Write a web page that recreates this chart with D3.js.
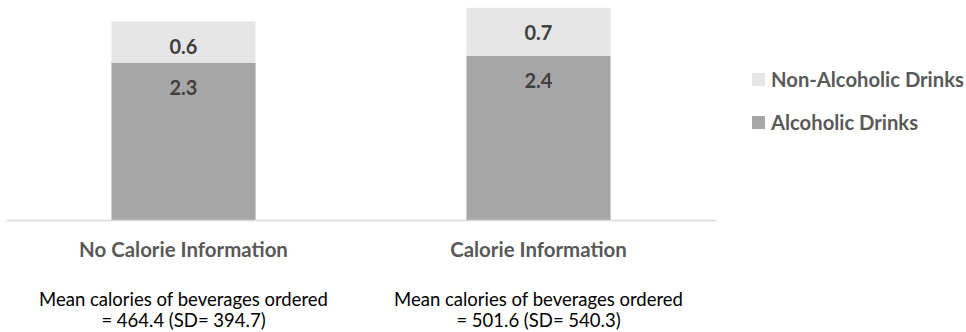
<!DOCTYPE html>
<html>
<head>
<meta charset="utf-8">
<script src="https://cdn.jsdelivr.net/npm/d3@7"></script>
<style>
  html, body { margin: 0; padding: 0; background: #fff; }
  svg { display: block; font-family: Lato, "Open Sans", sans-serif; }
</style>
</head>
<body>
<svg id="chart" width="966" height="332"></svg>
<script>
// ---- data ----
const categories = ["No Calorie Information", "Calorie Information"];
const seriesNames = ["Alcoholic Drinks", "Non-Alcoholic Drinks"];
const alcoholic = [2.3, 2.4];
const nonAlcoholic = [0.6, 0.7];
const subtitleLine1 = ["Mean calories of beverages ordered", "Mean calories of beverages ordered"];
const subtitleLine2 = ["= 464.4 (SD= 394.7)", "= 501.6 (SD= 540.3)"];
const legendOrder = ["Non-Alcoholic Drinks", "Alcoholic Drinks"];

const colors = { "Alcoholic Drinks": "#a6a6a6", "Non-Alcoholic Drinks": "#e6e6e6" };

const svg = d3.select("#chart");

const x = d3.scaleBand().domain(categories).range([6, 716]).paddingInner(0.594).paddingOuter(0.297);
const y = d3.scaleLinear().domain([0, 3.2]).range([220, 1]);

const table = categories.map((c, i) => ({ cat: c, "Alcoholic Drinks": alcoholic[i], "Non-Alcoholic Drinks": nonAlcoholic[i] }));
const stack = d3.stack().keys(seriesNames)(table);

// fit font size so a reference string reaches a target width
function fitSize(text, weight, target, base) {
  const t = svg.append("text").attr("font-size", base).attr("font-weight", weight).text(text);
  const w = t.node().getComputedTextLength();
  t.remove();
  return base * target / w;
}

// bars
const g = svg.append("g");
stack.forEach(layer => {
  g.selectAll(null).data(layer).enter().append("rect")
    .attr("x", d => x(d.data.cat))
    .attr("width", x.bandwidth())
    .attr("y", d => y(d[1]))
    .attr("height", d => y(d[0]) - y(d[1]))
    .attr("fill", colors[layer.key]);
});

// value labels (inside end)
stack.forEach(layer => {
  g.selectAll(null).data(layer).enter().append("text")
    .attr("x", d => x(d.data.cat) + x.bandwidth() / 2)
    .attr("y", d => y(d[1]) + 32.5)
    .attr("text-anchor", "middle")
    .attr("font-size", 20)
    .attr("font-weight", "bold")
    .attr("fill", "#404040")
    .text(d => d3.format(".1f")(d[1] - d[0]));
});

// baseline axis
const xAxis = d3.axisBottom(x).tickSize(0).tickFormat("");
const ax = svg.append("g").attr("transform", `translate(0,${y(0)})`).call(xAxis);
ax.select(".domain").attr("stroke", "#d9d9d9").attr("stroke-width", 1.5);

// category labels
const catSize = fitSize(categories[0], "bold", 209, 18);
svg.selectAll(".cat").data(categories).enter().append("text")
  .attr("class", "cat")
  .attr("x", d => x(d) + x.bandwidth() / 2)
  .attr("y", 256.5)
  .attr("text-anchor", "middle")
  .attr("font-size", catSize)
  .attr("font-weight", "bold")
  .attr("fill", "#595959")
  .text(d => d);

// subtitles
const subSize = fitSize(subtitleLine1[0], "normal", 289, 18);
categories.forEach((c, i) => {
  const cx = x(c) + x.bandwidth() / 2;
  svg.append("text").attr("x", cx).attr("y", 305.5).attr("text-anchor", "middle")
    .attr("font-size", subSize).attr("fill", "#000").text(subtitleLine1[i]);
  svg.append("text").attr("x", cx).attr("y", 327).attr("text-anchor", "middle")
    .attr("font-size", subSize).attr("fill", "#000").text(subtitleLine2[i]);
});

// legend
const legSize = fitSize(legendOrder[0], "bold", 193, 18);
const leg = svg.append("g");
legendOrder.forEach((name, i) => {
  const yy = 73 + i * 43;
  leg.append("rect").attr("x", 752).attr("y", yy).attr("width", 13).attr("height", 13).attr("fill", colors[name]);
  leg.append("text").attr("x", 771).attr("y", yy + 13.8)
    .attr("font-size", legSize).attr("font-weight", "bold").attr("fill", "#595959").text(name);
});
</script>
</body>
</html>
